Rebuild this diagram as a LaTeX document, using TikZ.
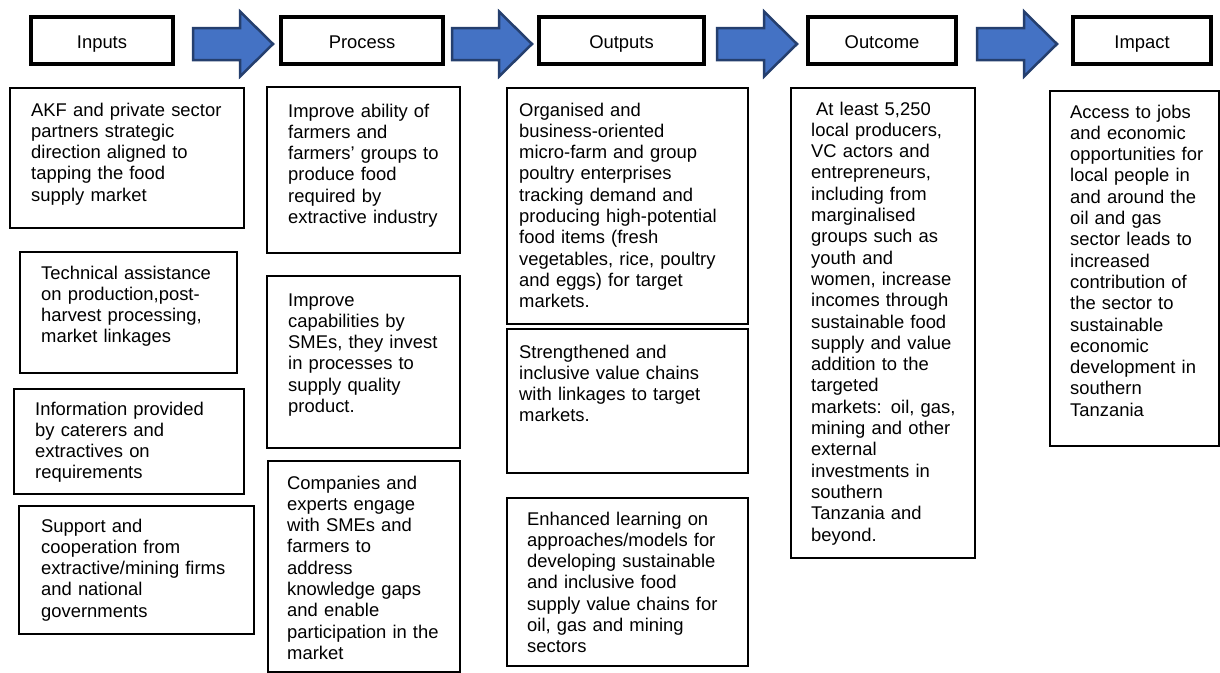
\documentclass[tikz,border=0pt]{standalone}
\usepackage{fontspec}
\setmainfont{Liberation Sans}
\definecolor{arrowfill}{HTML}{4472C4}
\definecolor{arrowline}{HTML}{253F6E}
\begin{document}
\begin{tikzpicture}[x=1pt,y=-1pt,
  txtfont/.style={font=\fontsize{18.4}{21.3}\selectfont},
  hdr/.style={draw=black, line width=4.5pt, minimum height=47pt, inner sep=0pt,
    text height=15pt, text depth=0pt, txtfont},
  cbox/.style={draw=black, line width=1.5pt, anchor=north west, inner sep=0pt},
  ctext/.style={anchor=base west, inner sep=0pt, align=left, text width=230pt, txtfont},
  barrow/.style={fill=arrowfill, draw=arrowline, line width=2.5pt, line join=miter},
  blockarrow/.pic={\path[barrow] (0,-16) -- (47,-16) -- (47,-32.5) -- (80,0) -- (47,32.5) -- (47,16) -- (0,16) -- cycle;}
]
\useasboundingbox[fill=white] (0,0) rectangle (1220,672);

% header boxes
\node[hdr, minimum width=142pt] (inputs)  at (102,40.5)  {Inputs};
\node[hdr, minimum width=162pt] (process) at (362,40.5)  {Process};
\node[hdr, minimum width=165pt] (outputs) at (621.5,40.5) {Outputs};
\node[hdr, minimum width=148pt] (outcome) at (882,40.5)  {Outcome};
\node[hdr, minimum width=138pt] (impact)  at (1142,40.5) {Impact};

% block arrows
\coordinate (a1) at (193,44);
\coordinate (a2) at (452,44);
\coordinate (a3) at (717,44);
\coordinate (a4) at (977,44);
\pic at (a1) {blockarrow};
\pic at (a2) {blockarrow};
\pic at (a3) {blockarrow};
\pic at (a4) {blockarrow};

% Inputs column
\node[cbox, minimum width=234pt, minimum height=140pt] (in1) at (9,87) {};
\node[ctext] (in1t) at (31,116) {AKF and private sector\\partners strategic\\direction aligned to\\tapping the food\\supply market};
\node[cbox, minimum width=217pt, minimum height=121pt] (in2) at (19,251) {};
\node[ctext] (in2t) at (41,279) {Technical assistance\\on production,post-\\harvest processing,\\market linkages};
\node[cbox, minimum width=230pt, minimum height=105pt] (in3) at (13,388) {};
\begin{scope}
  \clip (0,380) rectangle (260,481);
  \node[ctext] (in3t) at (35,415) {Information provided\\by caterers and\\extractives on\\requirements};
\end{scope}
\node[cbox, minimum width=235pt, minimum height=128pt] (in4) at (18,505) {};
\node[ctext] (in4t) at (41,532) {Support and\\cooperation from\\extractive/mining firms\\and national\\governments};

% Process column
\node[cbox, minimum width=193pt, minimum height=166pt] (p1) at (266,86) {};
\node[ctext] (p1t) at (288,117) {Improve ability of\\farmers and\\farmers’ groups to\\produce food\\required by\\extractive industry};
\node[cbox, minimum width=193pt, minimum height=172pt] (p2) at (266,275) {};
\node[ctext] (p2t) at (288,306) {Improve\\capabilities by\\SMEs, they invest\\in processes to\\supply quality\\product.};
\node[cbox, minimum width=192pt, minimum height=211pt] (p3) at (267,460) {};
\node[ctext] (p3t) at (287,489) {Companies and\\experts engage\\with SMEs and\\farmers to\\address\\knowledge gaps\\and enable\\participation in the\\market};

% Outputs column
\node[cbox, minimum width=241pt, minimum height=236pt] (o1) at (506,87) {};
\node[ctext] (o1t) at (519,116) {Organised and\\business-oriented\\micro-farm and group\\poultry enterprises\\tracking demand and\\producing high-potential\\food items (fresh\\vegetables, rice, poultry\\and eggs) for target\\markets.};
\node[cbox, minimum width=241pt, minimum height=144pt] (o2) at (506,328) {};
\node[ctext] (o2t) at (519,358) {Strengthened and\\inclusive value chains\\with linkages to target\\markets.};
\node[cbox, minimum width=241pt, minimum height=168pt] (o3) at (506,497) {};
\node[ctext] (o3t) at (527,525) {Enhanced learning on\\approaches/models for\\developing sustainable\\and inclusive food\\supply value chains for\\oil, gas and mining\\sectors};

% Outcome column
\node[cbox, minimum width=184pt, minimum height=470pt] (oc) at (790,87) {};
\node[ctext] (oct) at (811,115) {\hspace*{5pt}At least 5,250\\local producers,\\VC actors and\\entrepreneurs,\\including from\\marginalised\\groups such as\\youth and\\women, increase\\incomes through\\sustainable food\\supply and value\\addition to the\\targeted\\markets: oil, gas,\\mining and other\\external\\investments in\\southern\\Tanzania and\\beyond.};

% Impact column
\node[cbox, minimum width=169pt, minimum height=355pt] (im) at (1049,90) {};
\node[ctext] (imt) at (1070,118) {Access to jobs\\and economic\\opportunities for\\local people in\\and around the\\oil and gas\\sector leads to\\increased\\contribution of\\the sector to\\sustainable\\economic\\development in\\southern\\Tanzania};
\end{tikzpicture}
\end{document}
